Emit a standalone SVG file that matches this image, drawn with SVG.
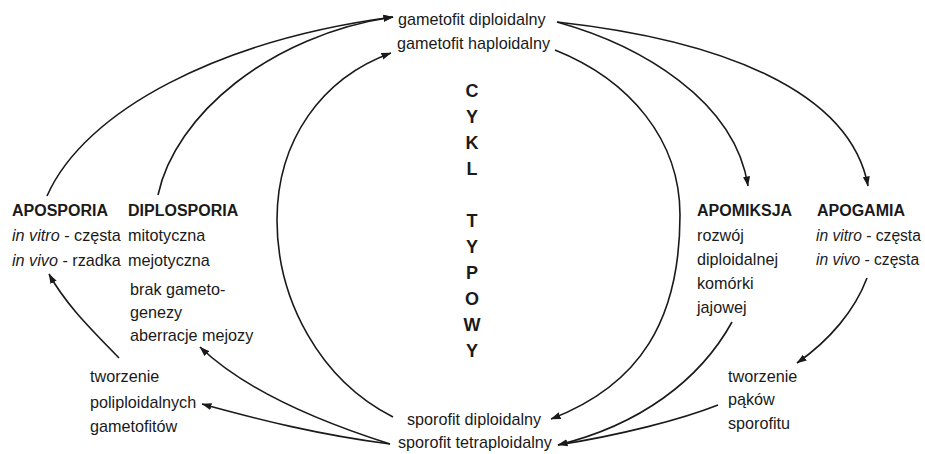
<svg xmlns="http://www.w3.org/2000/svg" width="925" height="454" viewBox="0 0 925 454">
<defs>
<style>
text{font-family:"Liberation Sans",Arial,Helvetica,sans-serif;font-size:16.2px;fill:#1a1a1a}
.b{font-weight:bold;font-size:16px}
.i{font-style:italic}
.s{font-size:15.6px}
.big{font-weight:bold;font-size:18px}
.c{fill:none;stroke:#1a1a1a;stroke-width:1.6}
</style>
<marker id="ah" markerUnits="userSpaceOnUse" markerWidth="10" markerHeight="8" refX="9.5" refY="4" orient="auto">
<path d="M0,0.5 L10,4 L0,7.5 z" fill="#1a1a1a"/>
</marker>
</defs>
<rect width="925" height="454" fill="#ffffff"/>

<g id="connectors">
<path class="c" marker-end="url(#ah)" d="M47,196 C85,110 220,40 393,17"/>
<path class="c" marker-end="url(#ah)" d="M158,195 C175,115 270,35 393,17"/>
<path class="c" marker-end="url(#ah)" d="M393,417 C320,380 277,300 277,220 C277,140 322,78 391,53"/>
<path class="c" marker-end="url(#ah)" d="M555,50 C630,80 680,140 680,215 C680,320 640,385 551,419"/>
<path class="c" marker-end="url(#ah)" d="M557,22 C640,45 735,100 748,186"/>
<path class="c" marker-end="url(#ah)" d="M557,22 C720,40 850,90 868,186"/>
<path class="c" marker-end="url(#ah)" d="M867,278 C855,310 830,340 797,363"/>
<path class="c" marker-end="url(#ah)" d="M732,322 C700,380 640,425 558,445"/>
<path class="c" d="M718,405 C680,420 620,435 558,445"/>
<path class="c" marker-end="url(#ah)" d="M390,444 C330,425 250,395 200,347"/>
<path class="c" marker-end="url(#ah)" d="M390,444 C320,435 260,420 202,404"/>
<path class="c" marker-end="url(#ah)" d="M119,358 C92,330 66,305 49,274"/>
</g>

<g id="gametofit-diploidalny"><text x="398" y="25">gametofit diploidalny</text></g>
<g id="gametofit-haploidalny"><text x="397" y="49">gametofit haploidalny</text></g>

<g id="cykl-typowy">
<text class="big" x="472" y="97" text-anchor="middle">C</text>
<text class="big" x="472" y="123" text-anchor="middle">Y</text>
<text class="big" x="472" y="149" text-anchor="middle">K</text>
<text class="big" x="472" y="175" text-anchor="middle">L</text>
<text class="big" x="472" y="227" text-anchor="middle">T</text>
<text class="big" x="472" y="253" text-anchor="middle">Y</text>
<text class="big" x="472" y="279" text-anchor="middle">P</text>
<text class="big" x="472" y="305" text-anchor="middle">O</text>
<text class="big" x="472" y="331" text-anchor="middle">W</text>
<text class="big" x="472" y="357" text-anchor="middle">Y</text>
</g>

<g id="aposporia">
<text class="b" x="12" y="216">APOSPORIA</text>
<text x="12" y="241"><tspan class="i">in vitro</tspan> - częsta</text>
<text x="12" y="266"><tspan class="i">in vivo</tspan> - rzadka</text>
</g>

<g id="diplosporia">
<text class="b" x="128" y="216">DIPLOSPORIA</text>
<text x="128" y="241">mitotyczna</text>
<text x="128" y="266">mejotyczna</text>
<text x="130" y="295">brak gameto-</text>
<text x="130" y="318">genezy</text>
<text x="130" y="341">aberracje mejozy</text>
</g>

<g id="tworzenie-gametofitow">
<text x="90" y="382">tworzenie</text>
<text x="90" y="408">poliploidalnych</text>
<text x="90" y="432">gametofitów</text>
</g>

<g id="apomiksja">
<text class="b" x="697" y="216">APOMIKSJA</text>
<text x="697" y="241">rozwój</text>
<text x="697" y="265">diploidalnej</text>
<text x="697" y="289">komórki</text>
<text x="697" y="313">jajowej</text>
</g>

<g id="apogamia">
<text class="b" x="817" y="216">APOGAMIA</text>
<text class="s" x="816" y="241"><tspan class="i">in vitro</tspan> - częsta</text>
<text class="s" x="816" y="265"><tspan class="i">in vivo</tspan> - częsta</text>
</g>

<g id="tworzenie-pakow">
<text x="728" y="382">tworzenie</text>
<text x="728" y="405">pąków</text>
<text x="728" y="429">sporofitu</text>
</g>

<g id="sporofit-diploidalny"><text x="407" y="425">sporofit diploidalny</text></g>
<g id="sporofit-tetraploidalny"><text x="398" y="448">sporofit tetraploidalny</text></g>
</svg>
